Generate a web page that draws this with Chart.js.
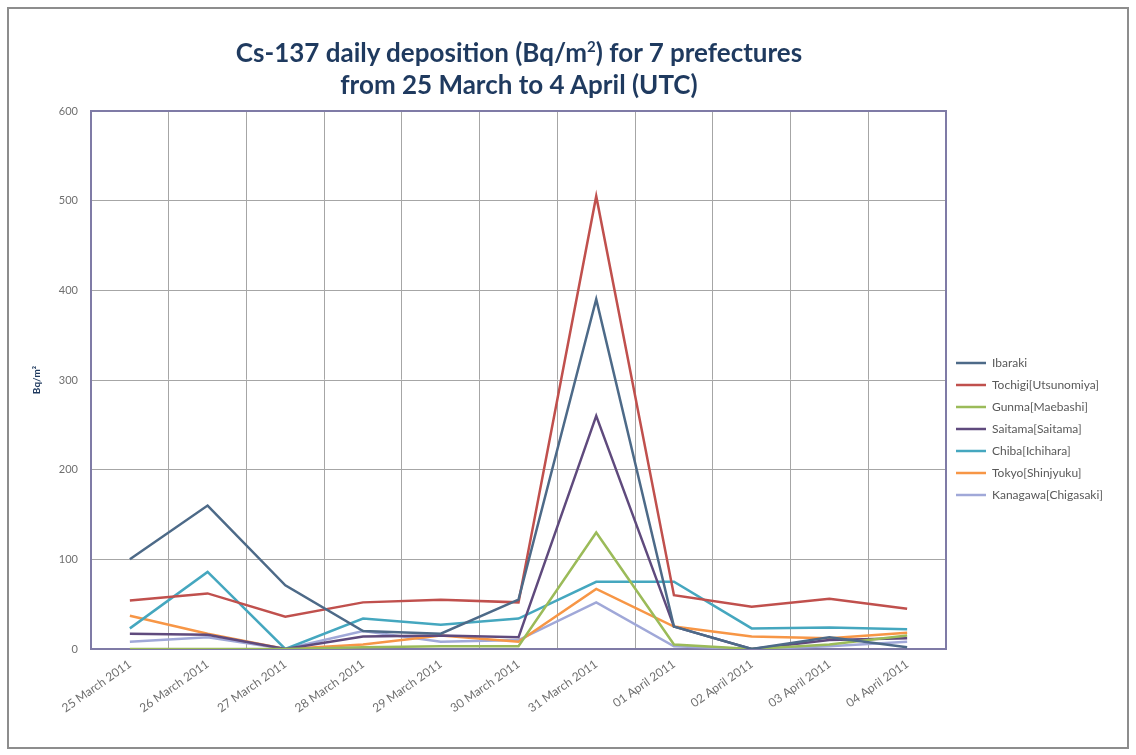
<!DOCTYPE html>
<html>
<head>
<meta charset="utf-8">
<script src="https://cdn.jsdelivr.net/npm/chart.js@4.4.1/dist/chart.umd.min.js"></script>
<style>
    body { margin: 0; background: #ffffff; }
    #frame {
        position: absolute; left: 7px; top: 7px;
        width: 1118px; height: 738px;
        border: 2px solid #8d8d8d;
    }
    #title {
        position: absolute; left: 0; top: 27px; width: 1020px;
        text-align: center;
        font-family: Lato, "Open Sans", sans-serif;
        font-weight: bold; font-size: 26px; line-height: 32px;
        color: #1f3a5f;
    }
    #title sup { font-size: 15px; line-height: 0; }
    canvas { position: absolute; left: 0; top: 0; }
</style>
</head>
<body>
<div id="frame">
    <canvas id="chartMain" width="1118" height="738"></canvas>
    <div id="title">Cs-137 daily deposition (Bq/m<sup>2</sup>) for 7 prefectures<br>from 25 March to 4 April (UTC)</div>
</div>
<script>
// Categories (days, UTC)
const days = ['25 March 2011', '26 March 2011', '27 March 2011', '28 March 2011', '29 March 2011',
    '30 March 2011', '31 March 2011', '01 April 2011', '02 April 2011', '03 April 2011', '04 April 2011'];

// Daily deposition per prefecture (Bq/m2)
const ibaraki  = [100, 160, 71, 20, 17, 55, 390, 25, 0, 13, 2];
const tochigi  = [54, 62, 36, 52, 55, 52, 505, 60, 47, 56, 45];
const gunma    = [0, 0, 0, 2, 3, 3, 130, 5, 0, 5, 15];
const saitama  = [17, 16, 0, 14, 15, 13, 260, 25, 0, 10, 12];
const chiba    = [23, 86, 0, 34, 27, 34, 75, 75, 23, 24, 22];
const tokyo    = [37, 17, 0, 5, 15, 8, 67, 25, 14, 12, 18];
const kanagawa = [8, 13, 0, 20, 8, 10, 52, 3, 0, 3, 8];

const seriesNames = ['Ibaraki', 'Tochigi[Utsunomiya]', 'Gunma[Maebashi]', 'Saitama[Saitama]',
    'Chiba[Ichihara]', 'Tokyo[Shinjyuku]', 'Kanagawa[Chigasaki]'];
const seriesValues = [ibaraki, tochigi, gunma, saitama, chiba, tokyo, kanagawa];
const seriesColors = ['#4d6a88', '#c0504d', '#9bbb59', '#5f4a7d', '#45a7bf', '#f79646', '#a0a8d8'];

// Y axis range
const yMin = 0;
const yMax = 600;
const yStep = 100;

const fontFamily = 'Lato, "Open Sans", sans-serif';
const frameColor = '#7f7ba6';

// Draw the purple frame round the plot area
const plotFrame = {
    id: 'plotFrame',
    beforeDatasetsDraw(chart) {
        const { ctx, chartArea } = chart;
        ctx.save();
        ctx.strokeStyle = frameColor;
        ctx.lineWidth = 2;
        ctx.strokeRect(chartArea.left, chartArea.top, chartArea.right - chartArea.left, chartArea.bottom - chartArea.top);
        ctx.restore();
    }
};

const datasets = seriesNames.map((name, i) => ({
    label: name,
    data: seriesValues[i],
    borderColor: seriesColors[i],
    backgroundColor: seriesColors[i],
    borderWidth: 2.5,
    pointRadius: 0,
    tension: 0
}));

new Chart(document.getElementById('chartMain'), {
    type: 'line',
    data: {
        labels: days,
        datasets: datasets
    },
    options: {
        responsive: false,
        animation: false,
        layout: {
            padding: { top: 102, left: 0, right: 14, bottom: 0 }
        },
        plugins: {
            legend: {
                position: 'right',
                labels: {
                    usePointStyle: true,
                    pointStyle: 'line',
                    pointStyleWidth: 30,
                    padding: 10,
                    color: '#595959',
                    font: { family: fontFamily, size: 12, lineHeight: 1.56 }
                }
            },
            title: { display: false },
            tooltip: { enabled: false }
        },
        scales: {
            x: {
                offset: true,
                grid: { offset: true, color: '#a6a6a6', lineWidth: 1, drawTicks: false },
                border: { color: frameColor, width: 2 },
                ticks: {
                    maxRotation: 35,
                    minRotation: 35,
                    padding: 8,
                    color: '#6f6f6f',
                    font: { family: fontFamily, size: 12 }
                },
                afterFit: (scale) => { scale.height = 98; }
            },
            y: {
                min: yMin,
                max: yMax,
                grid: { color: '#a6a6a6', lineWidth: 1, drawTicks: false },
                border: { color: frameColor, width: 2 },
                ticks: {
                    stepSize: yStep,
                    padding: 13,
                    color: '#6f6f6f',
                    font: { family: fontFamily, size: 11 }
                },
                title: {
                    display: true,
                    text: 'Bq/m²',
                    color: '#1f3a5f',
                    padding: { top: 22, bottom: 0 },
                    font: { family: fontFamily, size: 10, weight: 'bold' }
                },
                afterFit: (scale) => { scale.width = 82; }
            }
        }
    },
    plugins: [plotFrame]
});
</script>
</body>
</html>
